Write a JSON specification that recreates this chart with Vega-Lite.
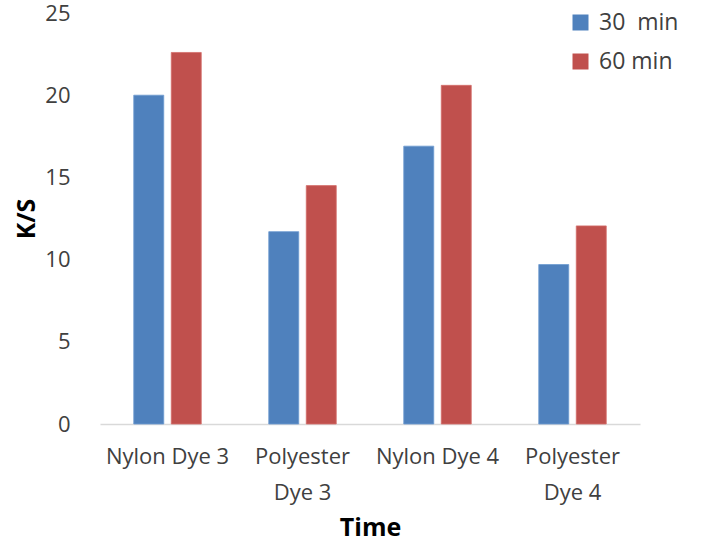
{
  "$schema": "https://vega.github.io/schema/vega-lite/v6.json",
  "width": 540,
  "height": 411,
  "autosize": {"type": "none"},
  "padding": {"left": 100, "top": 13, "right": 69, "bottom": 118},
  "background": "white",
  "config": {
    "view": {"stroke": null},
    "font": "Open Sans"
  },
  "data": {
    "values": [
      {"sample": "Nylon Dye 3", "time": "30  min", "ks": 20.0},
      {"sample": "Nylon Dye 3", "time": "60 min", "ks": 22.6},
      {"sample": "Polyester Dye 3", "time": "30  min", "ks": 11.7},
      {"sample": "Polyester Dye 3", "time": "60 min", "ks": 14.5},
      {"sample": "Nylon Dye 4", "time": "30  min", "ks": 16.9},
      {"sample": "Nylon Dye 4", "time": "60 min", "ks": 20.6},
      {"sample": "Polyester Dye 4", "time": "30  min", "ks": 9.7},
      {"sample": "Polyester Dye 4", "time": "60 min", "ks": 12.05}
    ]
  },
  "mark": {"type": "bar", "strokeWidth": 0.8},
  "encoding": {
    "x": {
      "field": "sample",
      "type": "nominal",
      "sort": null,
      "scale": {"paddingInner": 0.5, "paddingOuter": 0.25},
      "axis": {
        "title": "Time",
        "titleFont": "Open Sans",
        "titleFontSize": 25,
        "titleFontWeight": "bold",
        "titleColor": "#000000",
        "titlePadding": 12,
        "labelAngle": 0,
        "labelFontSize": 22,
        "labelColor": "#404040",
        "labelPadding": 22,
        "labelLineHeight": 36,
        "labelExpr": "datum.value == 'Polyester Dye 3' ? ['Polyester', 'Dye 3'] : datum.value == 'Polyester Dye 4' ? ['Polyester', 'Dye 4'] : datum.label",
        "ticks": false,
        "domainColor": "#d9d9d9",
        "domainWidth": 1.5
      }
    },
    "xOffset": {
      "field": "time",
      "type": "nominal",
      "scale": {"paddingInner": 0.2, "paddingOuter": 0}
    },
    "y": {
      "field": "ks",
      "type": "quantitative",
      "scale": {"domain": [0, 25], "nice": false},
      "axis": {
        "title": "K/S",
        "titleFont": "Open Sans",
        "titleFontSize": 25,
        "titleFontWeight": "bold",
        "titleColor": "#000000",
        "titlePadding": 5,
        "values": [0, 5, 10, 15, 20, 25],
        "labelFontSize": 22,
        "labelColor": "#404040",
        "labelPadding": 30,
        "ticks": false,
        "domain": false,
        "grid": false
      }
    },
    "color": {
      "field": "time",
      "type": "nominal",
      "scale": {"domain": ["30  min", "60 min"], "range": ["#4f81bd", "#c0504d"]},
      "legend": {
        "title": null,
        "orient": "none",
        "legendX": 469,
        "legendY": -2,
        "symbolType": "square",
        "symbolSize": 256,
        "symbolStrokeWidth": 0,
        "labelFontSize": 23,
        "labelColor": "#404040",
        "labelOffset": 7,
        "rowPadding": 15,
        "labelExpr": "datum.label == '30  min' ? '30\u00a0 min' : datum.label"
      }
    },
    "stroke": {
      "field": "time",
      "type": "nominal",
      "scale": {"domain": ["30  min", "60 min"], "range": ["#6d9bd1", "#d46f6c"]},
      "legend": null
    }
  }
}
